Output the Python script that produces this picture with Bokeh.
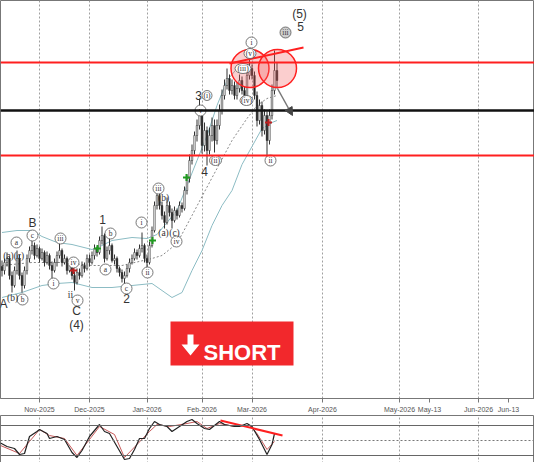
from bokeh.plotting import figure
from bokeh.layouts import column
from bokeh.models import FixedTicker, ColumnDataSource, Span, Arrow, NormalHead
from bokeh.embed import file_html
from bokeh.resources import INLINE
from bokeh.core.properties import value

# ---------------- data (bar index = trading day, from 13 Oct 2025) ----------------
opens = [33.5, 32.5, 34.5, 35.5, 31.25, 28.75, 32.5, 35.5, 31.25, 28.75,
         32.5, 35.5, 37.5, 38.75, 36.25, 38, 35.5, 37, 34.5, 36.25,
         33.75, 32.5, 34.5, 36.25, 37.5, 34.5, 35.5, 32.5, 33.75, 31.25,
         29.5, 32, 31.25, 33.75, 33, 35.5, 34.5, 36.25, 38, 37,
         40, 41.25, 35.5, 37.5, 38.75, 35, 35.5, 33, 32, 30.5,
         31.25, 33, 34.5, 35.5, 37, 36.25, 38, 38.75, 35.5, 34.5,
         38.75, 42.5, 48.75, 51.25, 48.75, 46.25, 44.5, 48.75, 47, 45,
         47.5, 46.25, 48.75, 48, 52.5, 55.5, 60, 62.5, 66.25, 68.75,
         71.25, 63.75, 67.5, 62.5, 66.25, 68.75, 65, 68.75, 72.5, 76.25,
         78.75, 80.5, 77.5, 78.75, 76.25, 78, 80, 77.5, 76.25, 81.25,
         83, 81.25, 76.25, 70, 73.75, 67.5, 71.25, 65, 71.25, 77.5, 82.5]
highs = [35, 35.5, 37, 36, 32.25, 33.5, 37.5, 36.5, 32, 33.5,
         36.5, 38.5, 40.5, 39.5, 39, 38.5, 38, 37.5, 37.25, 36.75,
         34.75, 35.5, 37.25, 39.5, 38, 36.5, 36, 34.75, 34.25, 32.25,
         33, 33, 34.75, 34.5, 36.5, 36.5, 37.25, 39, 38.5, 41,
         43.5, 41.75, 38.5, 41, 39.25, 36.5, 36, 33.5, 32.75, 32.25,
         34, 35.5, 36.5, 38, 37.75, 39, 42, 39.25, 36.5, 39.75,
         43.5, 49.75, 53.75, 52.25, 49.75, 47.25, 50.75, 49.75, 48, 48.5,
         48, 49.75, 49.5, 53.5, 56.5, 61.5, 64, 67.25, 70.25, 75.5,
         72.75, 69.5, 68.5, 68.25, 70.75, 70.25, 70.25, 74, 77.75, 80.25,
         83, 81.5, 80.25, 79.75, 79.5, 81.5, 81, 78.5, 82.75, 85.5,
         84, 82.25, 77.25, 75.25, 74.75, 72.75, 72.25, 72.75, 79, 87.5, 84.5]
lows = [31, 31.5, 33.5, 30.25, 27, 28.25, 31.5, 30.25, 27, 28,
        31.5, 34.5, 36.5, 35.25, 35.75, 34.5, 35, 33.5, 34, 32.75,
        30.5, 32, 33.5, 35.5, 33.5, 34, 31.5, 32, 30.25, 27.5,
        29, 30.25, 30.75, 32, 32.5, 33.5, 34, 35.25, 36, 36.5,
        39, 34.5, 35, 36.5, 34.5, 34, 32, 31, 29.5, 28.75,
        30.75, 32, 34, 35, 35.25, 35.75, 37, 34.5, 32, 34,
        38.25, 42, 47.75, 47.75, 45.25, 43, 44, 46, 43, 44.5,
        45.25, 45.75, 47, 47.5, 51.5, 54.5, 59, 61.5, 64.75, 67.75,
        61.75, 62.25, 58.75, 61.5, 64.75, 62, 64, 67.75, 71.5, 75.25,
        77.75, 76.5, 76.5, 75.25, 75.25, 77, 76.5, 74.5, 75.25, 80.25,
        80.25, 75.25, 68.5, 69, 66, 66.5, 60.5, 64, 70.25, 76.5, 78]
closes = [32.5, 34.5, 35.5, 31.25, 28.75, 32.5, 35.5, 31.25, 28.75, 32.5,
          35.5, 37.5, 38.75, 36.25, 38, 35.5, 37, 34.5, 36.25, 33.75,
          32.5, 34.5, 36.25, 37.5, 34.5, 35.5, 32.5, 33.75, 31.25, 29.5,
          32, 31.25, 33.75, 33, 35.5, 34.5, 36.25, 38, 37, 40,
          41.25, 35.5, 37.5, 38.75, 35, 35.5, 33, 32, 30.5, 31.25,
          33, 34.5, 35.5, 37, 36.25, 38, 38.75, 35.5, 34.5, 38.75,
          42.5, 48.75, 51.25, 48.75, 46.25, 44.5, 48.75, 47, 45, 47.5,
          46.25, 48.75, 48, 52.5, 55.5, 60, 62.5, 66.25, 68.75, 71.25,
          63.75, 67.5, 62.5, 66.25, 68.75, 65, 68.75, 72.5, 76.25, 78.75,
          80.5, 77.5, 78.75, 76.25, 78, 80, 77.5, 76.25, 81.25, 83,
          81.25, 76.25, 70, 73.75, 67.5, 71.25, 65, 71.25, 77.5, 82.5, 80]

# Bollinger bands (bar index, price)
bb_up_x = [0, 6, 12, 16, 22, 28, 36, 40, 44, 52, 58, 62, 66, 70, 74, 78, 82, 86, 90, 94, 98, 102, 106, 110]
bb_up_y = [42, 42.5, 42.5, 41, 39.5, 39, 37.75, 38.75, 40, 40.75, 40.5, 41.5, 44.5, 47.5, 53.75, 60,
           66.25, 73.75, 80, 83, 84, 84.5, 84.5, 84.5]
bb_lo_x = [0, 8, 16, 22, 28, 36, 44, 52, 60, 64, 68, 72, 76, 80, 84, 88, 92, 96, 100, 104, 108, 110]
bb_lo_y = [25.75, 27, 28.75, 29.25, 29.5, 28.25, 28.25, 28.75, 29.25, 27.5, 25.75, 27, 32.5, 37.5,
           43.75, 48.75, 52.5, 59, 63.5, 68, 69.5, 70]
bb_mid_x = [0, 12, 24, 36, 48, 60, 64, 70, 76, 80, 86, 92, 98, 102, 106, 110]
bb_mid_y = [33.75, 34.5, 34.5, 33.75, 33.75, 35.5, 36.25, 39.25, 46.25, 51, 58, 65, 70.5, 73.75, 75.5, 76.25]

# Stochastic oscillator (bar index, value)
stk_x = [-0.6, 2, 5, 7, 9, 11, 14, 15, 18, 19, 22, 25, 28, 30, 32, 35, 39, 41, 43, 46, 49, 51, 53, 55, 57,
         59, 61, 63, 66, 68, 71, 74, 76, 78, 81, 83, 85, 87, 89, 93, 95, 98, 100, 103, 106, 108, 109]
stk_y = [45, 38, 34, 22, 24, 58, 68, 72, 64, 54, 58, 52, 26, 16, 30, 58, 82, 68, 64, 38, 12, 14, 32, 54, 54,
         74, 88, 82, 78, 68, 78, 88, 92, 84, 74, 72, 80, 88, 82, 78, 78, 84, 78, 52, 22, 42, 64]
sig_x = [-0.6, 7, 11, 15, 19, 25, 30, 35, 39, 45, 49, 54, 59, 62, 67, 74, 78, 82, 87, 93, 99, 102, 106, 109]
sig_y = [40, 24, 48, 72, 60, 54, 20, 52, 78, 62, 16, 42, 68, 82, 78, 84, 88, 74, 84, 78, 80, 64, 32, 48]

# axis ticks (bar index positions) and labels
tick_pos = [15, 35, 58, 80, 100, 128.2, 159, 171, 190.6, 202.6]
tick_lbl = ["Nov-2025", "Dec-2025", "Jan-2026", "Feb-2026", "Mar-2026", "Apr-2026",
            "May-2026", "May-13", "Jun-2026", "Jun-13"]
month_pos = [15, 35, 58, 80, 100, 128.2, 159, 190.6]

# key levels
level_hi = 84.5
level_mid = 72.5
level_lo = 61.25

# Elliott wave labels
big_txt = ["A", "B", "C", "(4)", "1", "2", "3", "4", "(5)", "5"]
big_x = [0.6, 12.2, 29.8, 29.8, 40.2, 49.8, 78.6, 81, 119, 119.4]
big_y = [24.25, 44.5, 22.5, 19, 45.25, 25.5, 76.25, 57.25, 96.75, 93.5]

circ_txt = ["a", "b", "c", "i", "iii", "iv", "v", "a", "b", "c", "i", "ii", "iii", "iv", "v", "i", "ii"]
circ_x = [5.8, 8.2, 12.2, 20.6, 23.4, 28.6, 30.2, 41.4, 43.4, 49.8, 55.8, 58.2, 62.6, 69.8, 79.4, 99.8, 107.4]
circ_y = [39.5, 25.25, 41.25, 29.25, 40.5, 34.5, 25, 32.75, 41.75, 28, 44.5, 32, 53, 39.75, 72.5, 89.5, 60]

par_txt = ["(i)", "(ii)", "(iii)", "(iv)", "(v)"]
par_x = [82.0, 85.4, 96.4, 97.8, 99.2]
par_y = [76.25, 60, 83, 75, 86.75]
par_w = [10, 12, 16, 13, 12]

plain_txt = ["(a)", "(c)", "(b)", "ii", "(b)", "(a)", "(c)"]
plain_x = [2.6, 6.8, 4.2, 27.4, 64.6, 64.6, 69.0]
plain_y = [36.25, 36.25, 25.75, 26.5, 50.75, 42, 42]

buy_x = [38.2, 60.2, 73.8]
buy_y = [38, 40, 55.75]
sell_x = [28.6, 106.6]
sell_y = [32.5, 69.5]

# ---------------- figure ----------------
W = 534
main = figure(frame_width=W, frame_height=398, x_range=(-0.6, 213), y_range=(0.5, 100),
              output_backend="svg", toolbar_location=None, min_border=0,
              y_axis_location=None, background_fill_color="white")
main.outline_line_color = "#777777"
main.ygrid.visible = False
main.xgrid.ticker = FixedTicker(ticks=month_pos)
main.xgrid.grid_line_color = "#a0a0a0"
main.xgrid.grid_line_dash = "2 2"

ax = main.xaxis[0]
ax.ticker = FixedTicker(ticks=tick_pos)
ax.major_label_overrides = {p: l for p, l in zip(tick_pos, tick_lbl)}
ax.major_label_text_font = "Liberation Sans"
ax.major_label_text_font_size = "7px"
ax.major_label_text_color = "#555555"
ax.major_label_standoff = 3
ax.major_tick_in = 0
ax.major_tick_out = 4
ax.minor_tick_out = 0
ax.minor_tick_in = 0
ax.axis_line_color = "#777777"
ax.major_tick_line_color = "#777777"

# levels
main.add_layout(Span(location=level_hi, dimension="width", line_color="#ff1f1f", line_width=2))
main.add_layout(Span(location=level_mid, dimension="width", line_color="#111111", line_width=2.5))
main.add_layout(Span(location=level_lo, dimension="width", line_color="#ff1f1f", line_width=2))

# bands
main.line(bb_up_x, bb_up_y, line_color="#8cbcc4", line_width=1)
main.line(bb_lo_x, bb_lo_y, line_color="#8cbcc4", line_width=1)
main.line(bb_mid_x, bb_mid_y, line_color="#888888", line_width=1, line_dash="2 2")

# candles
xs = list(range(len(closes)))
up = [c >= o for o, c in zip(opens, closes)]
src = ColumnDataSource(dict(
    x=xs, h=highs, l=lows,
    top=[max(o, c) for o, c in zip(opens, closes)],
    bot=[min(o, c) for o, c in zip(opens, closes)],
    fill=["#ffffff" if u else "#1a1a1a" for u in up]))
main.segment(x0="x", y0="l", x1="x", y1="h", source=src, line_color="#333333", line_width=1)
main.vbar(x="x", width=0.62, top="top", bottom="bot", fill_color="fill", line_color="#333333",
          line_width=0.6, source=src)

# signal markers
main.scatter(buy_x, buy_y, marker="cross", size=7, line_color="#1f9a1f", line_width=2)
main.scatter(sell_x, sell_y, marker="cross", size=7, line_color="#c02020", line_width=2)

# red circles and trendline
main.scatter([99.2, 110.2], [83, 83], marker="circle", size=38, fill_color="#f25c5c", fill_alpha=0.3,
             line_color="#ff2020", line_width=1.5)
main.line([91, 120.6], [84.25, 88.25], line_color="#ff2020", line_width=2)
main.add_layout(Arrow(end=NormalHead(size=8, fill_color="#444444", line_color="#444444"),
                      x_start=110.2, y_start=78, x_end=116.2, y_end=71.25,
                      line_color="#777777", line_width=1.5))

# wave labels
main.text(big_x, big_y, text=big_txt, text_font=value("Liberation Sans"), text_font_size="12px",
          text_color="#333333", text_align="center", text_baseline="middle")
main.scatter(circ_x, circ_y, marker="circle", size=11, fill_color="white", line_color="#555555",
             line_width=0.8)
main.scatter([113.4], [92], marker="circle", size=11, fill_color="#cfcfcf", line_color="#555555",
             line_width=0.8)
main.text(circ_x + [113.4], circ_y + [92], text=circ_txt + ["iii"], text_font=value("Liberation Serif"),
          text_font_size="7.5px", text_color="#333333", text_align="center", text_baseline="middle")
main.ellipse(par_x, par_y, width=par_w, height=10, width_units="screen", height_units="screen",
             fill_color="white", line_color="#555555", line_width=0.8)
main.text(par_x, par_y, text=par_txt, text_font=value("Liberation Serif"), text_font_size="7.5px",
          text_color="#333333", text_align="center", text_baseline="middle")
main.text(plain_x, plain_y, text=plain_txt, text_font=value("Liberation Serif"), text_font_size="9.5px",
          text_color="#333333", text_align="center", text_baseline="middle")

# SHORT badge
main.quad(left=[67.4], right=[116.6], top=[19.75], bottom=[8.75], fill_color="#f2282c", line_color=None)
main.patch([74.2, 76.6, 76.6, 79.0, 75.4, 71.8, 74.2], [16.5, 16.5, 14, 14, 11.25, 14, 14],
           fill_color="white", line_color=None)
main.text([80.6], [12], text=["SHORT"], text_font=value("Liberation Sans"), text_font_style="bold",
          text_font_size="22px", text_color="white", text_align="left", text_baseline="alphabetic")

# ---------------- oscillator ----------------
osc = figure(frame_width=W, frame_height=48, x_range=main.x_range, y_range=(4, 100),
             output_backend="svg", toolbar_location=None, min_border=0,
             x_axis_location=None, y_axis_location=None)
osc.outline_line_color = "#777777"
osc.ygrid.visible = False
osc.xgrid.ticker = FixedTicker(ticks=month_pos)
osc.xgrid.grid_line_color = "#a0a0a0"
osc.xgrid.grid_line_dash = "2 2"
osc.add_layout(Span(location=80, dimension="width", line_color="#666666", line_width=1))
osc.add_layout(Span(location=20, dimension="width", line_color="#666666", line_width=1))
osc.add_layout(Span(location=50, dimension="width", line_color="#777777", line_width=1, line_dash="2 2"))
osc.line(sig_x, sig_y, line_color="#c85a5a", line_width=1)
osc.line(stk_x, stk_y, line_color="#222222", line_width=1.2)
osc.line([87.4, 112.2], [90, 60], line_color="#ff2020", line_width=2)

layout = column(main, osc, spacing=0)
open("out.html", "w").write(file_html(layout, INLINE))
